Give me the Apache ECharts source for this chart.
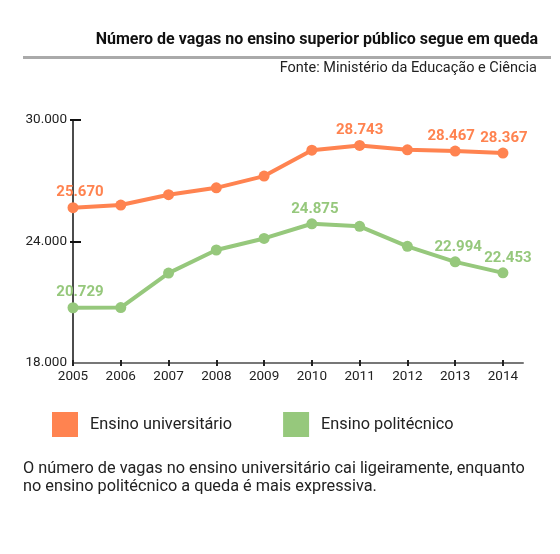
<!DOCTYPE html>
<html><head><meta charset="utf-8">
<script src="https://cdn.jsdelivr.net/npm/echarts@6/dist/echarts.min.js"></script>
<style>html,body{margin:0;padding:0;background:#fff}#c{width:560px;height:554px}</style>
</head><body><div id="c"></div>
<script>
const years = [2005, 2006, 2007, 2008, 2009, 2010, 2011, 2012, 2013, 2014];
const universitario = [25670, 25800, 26310, 26650, 27230, 28510, 28743, 28530, 28467, 28367];
const politecnico = [20729, 20740, 22440, 23580, 24150, 24875, 24750, 23760, 22994, 22453];
const yTickValues = [18000, 24000, 30000];
const seriesNames = ['Ensino universitário', 'Ensino politécnico'];
const labeledUniv = [2005, 2011, 2013, 2014];
const labeledPoli = [2005, 2010, 2013, 2014];
const titleText = 'Número de vagas no ensino superior público segue em queda';
const sourceText = 'Fonte: Ministério da Educação e Ciência';
const noteText = 'O número de vagas no ensino universitário cai ligeiramente, enquanto\nno ensino politécnico a queda é mais expressiva.';

// styling
const ORANGE = '#FF8350', GREEN = '#96C87C', FONT = 'Roboto';
const labelShiftUniv = {2005: 7, 2011: 0, 2013: -4, 2014: 1};
const labelShiftPoli = {2005: 7, 2010: 3, 2013: 3, 2014: 5};

const fmt = v => String(v).replace(/\B(?=(\d{3})+(?!\d))/g, '.');

function buildData(vals, labeled, shift) {
  return years.map((y, i) => ({
    value: [y, vals[i]],
    label: {show: labeled.includes(y), offset: [shift[y] || 0, 0]}
  }));
}

function lineSeries(name, vals, labeled, shift, color) {
  return {
    name, type: 'line', xAxisIndex: 0, yAxisIndex: 0,
    data: buildData(vals, labeled, shift),
    symbol: 'circle', symbolSize: 11, showSymbol: true,
    lineStyle: {width: 4, color},
    itemStyle: {color},
    label: {position: 'top', distance: 2, fontSize: 15, fontWeight: 'bold', color, fontFamily: FONT,
      formatter: p => fmt(p.value[1])},
    emphasis: {disabled: true},
    animation: false
  };
}

const xMax = 2014.42;
const chart = echarts.init(document.getElementById('c'), null, {renderer: 'canvas'});
chart.setOption({
  animation: false,
  backgroundColor: '#fff',
  title: [
    {text: titleText, right: 22, top: 32, padding: 0,
      textStyle: {fontSize: 16, fontWeight: 'bold', fontFamily: FONT, color: '#111'}},
    {text: sourceText, right: 23, top: 61, padding: 0,
      textStyle: {fontSize: 14.5, fontWeight: 'normal', fontFamily: FONT, color: '#222'}},
    {text: noteText, left: 23, top: 460, padding: 0,
      textStyle: {fontSize: 16.3, fontWeight: 'normal', fontFamily: FONT, color: '#222', lineHeight: 18}}
  ],
  graphic: [
    {type: 'rect', shape: {x: 23, y: 56, width: 528, height: 3}, style: {fill: '#aaaaaa'}, silent: true}
  ],
  legend: {
    data: seriesNames, left: 52, top: 412, itemWidth: 26, itemHeight: 25, itemGap: 51,
    icon: 'rect', selectedMode: false, padding: 0,
    itemStyle: {borderWidth: 0},
    textStyle: {fontSize: 16.3, color: '#222', fontFamily: FONT, padding: [0, 0, 0, 7]}
  },
  grid: {left: 73, right: 37, top: 120, bottom: 191, containLabel: false, outerBoundsMode: 'none'},
  xAxis: [
    {type: 'value', min: 2005, max: xMax, position: 'bottom',
      axisLine: {show: true, lineStyle: {color: '#777', width: 2}},
      axisTick: {show: true, customValues: years, length: 3, lineStyle: {color: '#222', width: 2}},
      axisLabel: {customValues: years, margin: 7, fontSize: 13.5, color: '#222', fontFamily: FONT, formatter: v => String(v)},
      splitLine: {show: false}},
    {type: 'value', min: 2005, max: xMax, position: 'bottom',
      axisLine: {show: false},
      axisTick: {show: true, inside: true, customValues: years, length: 3, lineStyle: {color: '#222', width: 2}},
      axisLabel: {show: false}, splitLine: {show: false}}
  ],
  yAxis: [
    {type: 'value', min: yTickValues[0], max: yTickValues[yTickValues.length - 1], interval: 6000, position: 'left',
      axisLine: {show: true, lineStyle: {color: '#111', width: 1.5}},
      axisTick: {show: true, customValues: yTickValues.slice(1), length: 3, lineStyle: {color: '#111', width: 2}},
      axisLabel: {margin: 6, fontSize: 13.5, color: '#222', fontFamily: FONT, formatter: v => fmt(v)},
      splitLine: {show: false}},
    {type: 'value', min: yTickValues[0], max: yTickValues[yTickValues.length - 1], interval: 6000, position: 'left',
      axisLine: {show: false},
      axisTick: {show: true, inside: true, customValues: yTickValues.slice(1), length: 8, lineStyle: {color: '#111', width: 2}},
      axisLabel: {show: false}, splitLine: {show: false}}
  ],
  series: [
    lineSeries(seriesNames[0], universitario, labeledUniv, labelShiftUniv, ORANGE),
    lineSeries(seriesNames[1], politecnico, labeledPoli, labelShiftPoli, GREEN)
  ]
});
</script>
</body></html>
